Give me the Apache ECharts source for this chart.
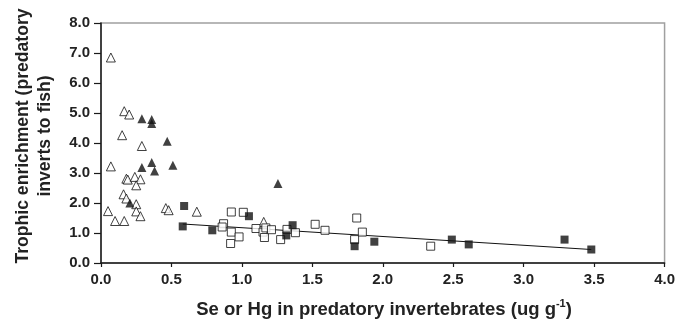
<!DOCTYPE html>
<html><head><meta charset="utf-8">
<script src="https://cdn.jsdelivr.net/npm/echarts@6/dist/echarts.min.js"></script>
<style>html,body{margin:0;padding:0;background:#fff}#c{width:678px;height:320px}</style>
</head><body><div id="c"></div>
<script>
// Data
var openTriX = [0.07,0.165,0.20,0.15,0.29,0.07,0.18,0.19,0.24,0.28,0.25,0.16,0.18,0.25,0.05,0.25,0.10,0.165,0.28,0.46,0.48,0.68,1.155];
var openTriY = [6.85,5.06,4.95,4.26,3.90,3.22,2.81,2.78,2.87,2.79,2.59,2.29,2.15,1.96,1.73,1.72,1.40,1.40,1.56,1.83,1.76,1.71,1.37];
var filledTriX = [0.29,0.36,0.36,0.47,0.29,0.36,0.38,0.51,0.205,1.256];
var filledTriY = [4.81,4.78,4.65,4.06,3.18,3.35,3.07,3.26,2.00,2.65];
var openSqX = [0.925,1.01,0.87,0.86,0.925,0.98,0.92,1.10,1.15,1.16,1.17,1.21,1.275,1.32,1.38,1.52,1.59,1.815,1.80,1.855,2.34];
var openSqY = [1.70,1.69,1.31,1.20,1.03,0.87,0.65,1.15,1.03,0.85,1.17,1.11,0.78,1.12,1.01,1.29,1.09,1.50,0.78,1.03,0.56];
var filledSqX = [0.59,0.58,0.79,1.05,1.315,1.36,1.80,1.94,2.49,2.61,3.29,3.48];
var filledSqY = [1.90,1.22,1.09,1.56,0.92,1.26,0.56,0.71,0.78,0.62,0.78,0.45];
var trendX = [0.58,3.48];
var trendY = [1.30,0.45];
var xTicks = [0,0.5,1,1.5,2,2.5,3,3.5,4];
var yTicks = [0,1,2,3,4,5,6,7,8];

function zip(a,b){return a.map(function(v,i){return [v,b[i]];});}
var FONT = '"Liberation Sans", Arial, sans-serif';
var chart = echarts.init(document.getElementById('c'), null, {renderer:'canvas'});
var openStyle = {color:'#fff', borderColor:'#111', borderWidth:1};
var filledStyle = {color:'#111'};
chart.setOption({
  animation:false,
  backgroundColor:'#fff',
  grid:{left:101,right:12,top:23,bottom:57,show:true,borderColor:'#a0a0a0',borderWidth:1.5},
  xAxis:{type:'value',min:xTicks[0],max:xTicks[xTicks.length-1],interval:0.5,
    axisLine:{show:true,onZero:false,lineStyle:{color:'#1a1a1a',width:1.5}},
    axisTick:{show:true,length:4,lineStyle:{color:'#1a1a1a',width:1.2}},
    splitLine:{show:false},
    axisLabel:{margin:9,color:'#222',fontFamily:FONT,fontWeight:'bold',fontSize:15,formatter:function(v){return v.toFixed(1);}}
  },
  yAxis:{type:'value',min:yTicks[0],max:yTicks[yTicks.length-1],interval:1,
    axisLine:{show:true,onZero:false,lineStyle:{color:'#1a1a1a',width:1.5}},
    axisTick:{show:true,length:7,lineStyle:{color:'#1a1a1a',width:1.2}},
    splitLine:{show:false},
    axisLabel:{margin:11,color:'#222',fontFamily:FONT,fontWeight:'bold',fontSize:15,formatter:function(v){return v.toFixed(1);}}
  },
  graphic:[
    {type:'text',x:384,y:309.5,style:{
      text:'{a|Se or Hg in predatory invertebrates (ug g}{s|-1}{a|)}',
      align:'center',verticalAlign:'middle',
      rich:{a:{fontFamily:FONT,fontWeight:'bold',fontSize:18.5,fill:'#222',lineHeight:22},
            s:{fontFamily:FONT,fontWeight:'bold',fontSize:11,fill:'#222',lineHeight:22,verticalAlign:'top',padding:[0,0,8,0]}}}},
    {type:'text',x:34,y:136,rotation:Math.PI/2,style:{
      text:'Trophic enrichment (predatory\ninverts to fish)',
      fontFamily:FONT,fontWeight:'bold',fontSize:17.6,lineHeight:22,fill:'#222',
      align:'center',verticalAlign:'middle'}}
  ],
  series:[
    {type:'line',data:zip(trendX,trendY),symbol:'none',lineStyle:{color:'#111',width:1},z:1},
    {type:'scatter',data:zip(openTriX,openTriY),symbol:'triangle',symbolSize:[9,9],itemStyle:openStyle,z:3},
    {type:'scatter',data:zip(filledTriX,filledTriY),symbol:'triangle',symbolSize:[9,9],itemStyle:filledStyle,z:3},
    {type:'scatter',data:zip(openSqX,openSqY),symbol:'rect',symbolSize:8,itemStyle:openStyle,z:3},
    {type:'scatter',data:zip(filledSqX,filledSqY),symbol:'rect',symbolSize:8,itemStyle:filledStyle,z:3}
  ]
});
</script></body></html>
